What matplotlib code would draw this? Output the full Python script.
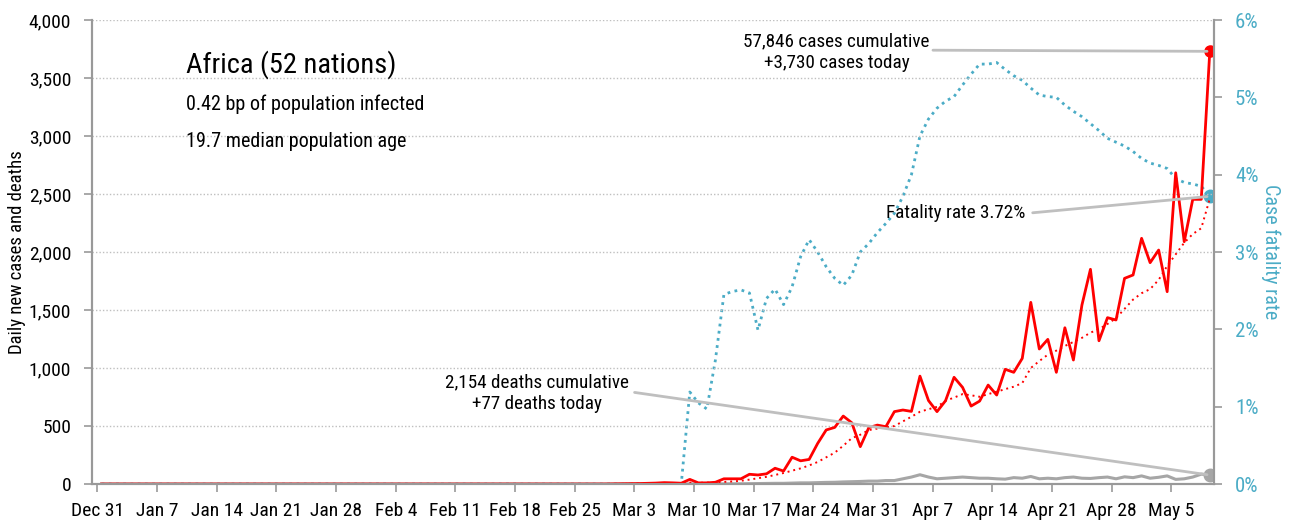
#!/usr/bin/env python3

import datetime as dt
import matplotlib
matplotlib.use("Agg")
import matplotlib.pyplot as plt
import numpy as np
from matplotlib.ticker import FuncFormatter

plt.rcParams['font.family'] = ['Roboto Condensed', 'Roboto', 'DejaVu Sans']

start = dt.date(2019, 12, 31)
ndays = 131  # Dec 31 .. May 9

# daily values from Feb 28 (day 60) to May 9 (day 130); earlier days are zero
cases_tail = [1, 2, 3, 4, 6, 8, 12, 10, 7, 40, 10, 10, 15, 45, 45, 45, 84, 78, 88, 136,
              112, 231, 200, 212, 350, 466, 488, 586, 528, 322, 486, 508, 494, 624, 638,
              626, 930, 720, 624, 718, 920, 833, 672, 715, 853, 767, 989, 963, 1083, 1566,
              1164, 1247, 963, 1347, 1069, 1543, 1851, 1235, 1434, 1414, 1773, 1802, 2118,
              1908, 2017, 1658, 2683, 2089, 2454, 2454, 3730]
avg_tail = [1, 1, 2, 2, 3, 4, 5, 6, 7, 12, 10, 12, 13, 18, 22, 28, 38, 50, 62, 78,
            95, 115, 135, 160, 190, 230, 270, 330, 395, 425, 465, 478, 488, 500, 540,
            580, 623, 645, 665, 718, 745, 775, 765, 752, 775, 796, 818, 839, 870, 1000,
            1060, 1115, 1150, 1190, 1225, 1260, 1305, 1335, 1380, 1430, 1510, 1590, 1645,
            1680, 1760, 1880, 1980, 2080, 2155, 2205, 2460]
deaths_tail = [0, 0, 0, 0, 0, 0, 0, 0, 0, 1, 1, 1, 1, 1, 2, 2, 3, 4, 5, 6,
               6, 8, 10, 10, 12, 14, 15, 18, 20, 22, 25, 25, 30, 30, 45,
               60, 80, 60, 45, 50, 55, 60, 55, 50, 50, 45, 42, 55, 50, 65,
               45, 50, 45, 55, 60, 50, 48, 55, 60, 45, 62, 55, 70,
               50, 58, 70, 40, 45, 60, 85, 77]
rate_tail = [0, 0, 0, 0, 0, 0, 0, 0, 0, 1.19, 1.05, 0.97, 1.6, 2.45, 2.49, 2.51, 2.47, 1.99, 2.4, 2.52,
             2.32, 2.55, 2.94, 3.16, 3.0, 2.81, 2.66, 2.57, 2.7, 3.0, 3.11, 3.25, 3.37, 3.5, 3.72,
             4.0, 4.5, 4.72, 4.86, 4.95, 5.01, 5.16, 5.3, 5.43, 5.43, 5.45, 5.36, 5.28, 5.22, 5.12,
             5.03, 5.01, 5.0, 4.9, 4.82, 4.75, 4.66, 4.57, 4.47, 4.42, 4.37, 4.3, 4.21,
             4.15, 4.12, 4.08, 3.95, 3.9, 3.88, 3.85, 3.72]

lead = ndays - len(cases_tail)
cases = np.array([0] * lead + cases_tail, dtype=float)
deaths = np.array([0] * lead + deaths_tail, dtype=float)
rate = np.array([0] * lead + rate_tail, dtype=float)
avg = np.array([np.nan] * 6 + [0] * (lead - 6) + avg_tail, dtype=float)

days = np.arange(ndays) + 0.5  # plotted at midday
tick_days = np.arange(0, ndays, 7)
tick_labels = [(start + dt.timedelta(days=int(d))).strftime('%b ') +
               str((start + dt.timedelta(days=int(d))).day) for d in tick_days]

RED = '#ff0000'
BLUE = '#4bacc6'
GREY = '#a6a6a6'
LINE = '#bfbfbf'

fig = plt.figure(figsize=(12.91, 5.24), dpi=100)
ax = fig.add_axes([0.0713, 0.0763, 0.8691, 0.8855])
ax2 = ax.twinx()
ax.set_zorder(ax2.get_zorder() + 1)
ax.patch.set_visible(False)

ax2.plot(days, rate, color=BLUE, lw=2.0, ls=(0, (1, 1.6)))
ax2.plot(days[-1], rate[-1], 'o', color=BLUE, ms=9)

ax.plot(days, deaths, color=GREY, lw=2.2)
ax.plot(days[-1], deaths[-1], 'o', color=GREY, ms=9)
ax.plot(days, cases, color=RED, lw=2.0)
ax.plot(days, avg, color=RED, lw=1.4, ls=(0, (1, 2)))
ax.plot(days[-1], cases[-1], 'o', color=RED, ms=8)

ax.set_xlim(-0.62, 131.0)
ax.set_ylim(0, 4000)
ax2.set_ylim(0, 6)
ax.set_yticks(np.arange(0, 4001, 500))
ax.yaxis.set_major_formatter(FuncFormatter(lambda v, p: f'{int(v):,}'))
ax2.set_yticks(np.arange(0, 7, 1))
ax2.yaxis.set_major_formatter(FuncFormatter(lambda v, p: f'{int(v)}%'))
ax.set_xticks(tick_days)
ax.set_xticklabels(tick_labels)
ax.grid(axis='y', color=LINE, ls=(0, (1, 1.5)), lw=1)
ax.set_axisbelow(True)

for a in (ax, ax2):
    for s in a.spines.values():
        s.set_color('#999999')
        s.set_linewidth(1.5)
    a.spines['top'].set_visible(False)
ax.tick_params(axis='both', colors='#999999', labelcolor='black', labelsize=14, length=6, width=1.2)
ax.tick_params(axis='x', pad=7)
ax.tick_params(axis='y', pad=9)
ax2.tick_params(axis='y', colors='#999999', labelcolor=BLUE, labelsize=15, length=6, width=1.2, pad=9)

ax.set_ylabel('Daily new cases and deaths', fontsize=13.5, labelpad=2)
ax2.set_ylabel('Case fatality rate', fontsize=14.5, color=BLUE, rotation=270, labelpad=16)

ax.text(0.084, 0.903, 'Africa (52 nations)', transform=ax.transAxes, fontsize=20.5, va='center')
ax.text(0.084, 0.819, '0.42 bp of population infected', transform=ax.transAxes, fontsize=14.5, va='center')
ax.text(0.084, 0.739, '19.7 median population age', transform=ax.transAxes, fontsize=14.5, va='center')

# callouts
ax.annotate('', xy=(days[-1], cases[-1]), xytext=(97.7, 3740),
            arrowprops=dict(arrowstyle='-', color=LINE, lw=2))
ax.text(86.7, 3724, '57,846 cases cumulative\n+3,730 cases today', ha='center', va='center',
        fontsize=13.8, linespacing=1.25)

ax.annotate('', xy=(days[-1], rate[-1] / 6 * 4000), xytext=(109.4, 2336),
            arrowprops=dict(arrowstyle='-', color=LINE, lw=2))
ax.text(100.7, 2336, 'Fatality rate 3.72%', ha='center', va='center', fontsize=13.8)

ax.annotate('', xy=(days[-1], deaths[-1]), xytext=(62.7, 793),
            arrowprops=dict(arrowstyle='-', color=LINE, lw=2))
ax.text(51.6, 784, '2,154 deaths cumulative\n+77 deaths today', ha='center', va='center',
        fontsize=13.8, linespacing=1.25)

plt.savefig('out.png', dpi=100)
